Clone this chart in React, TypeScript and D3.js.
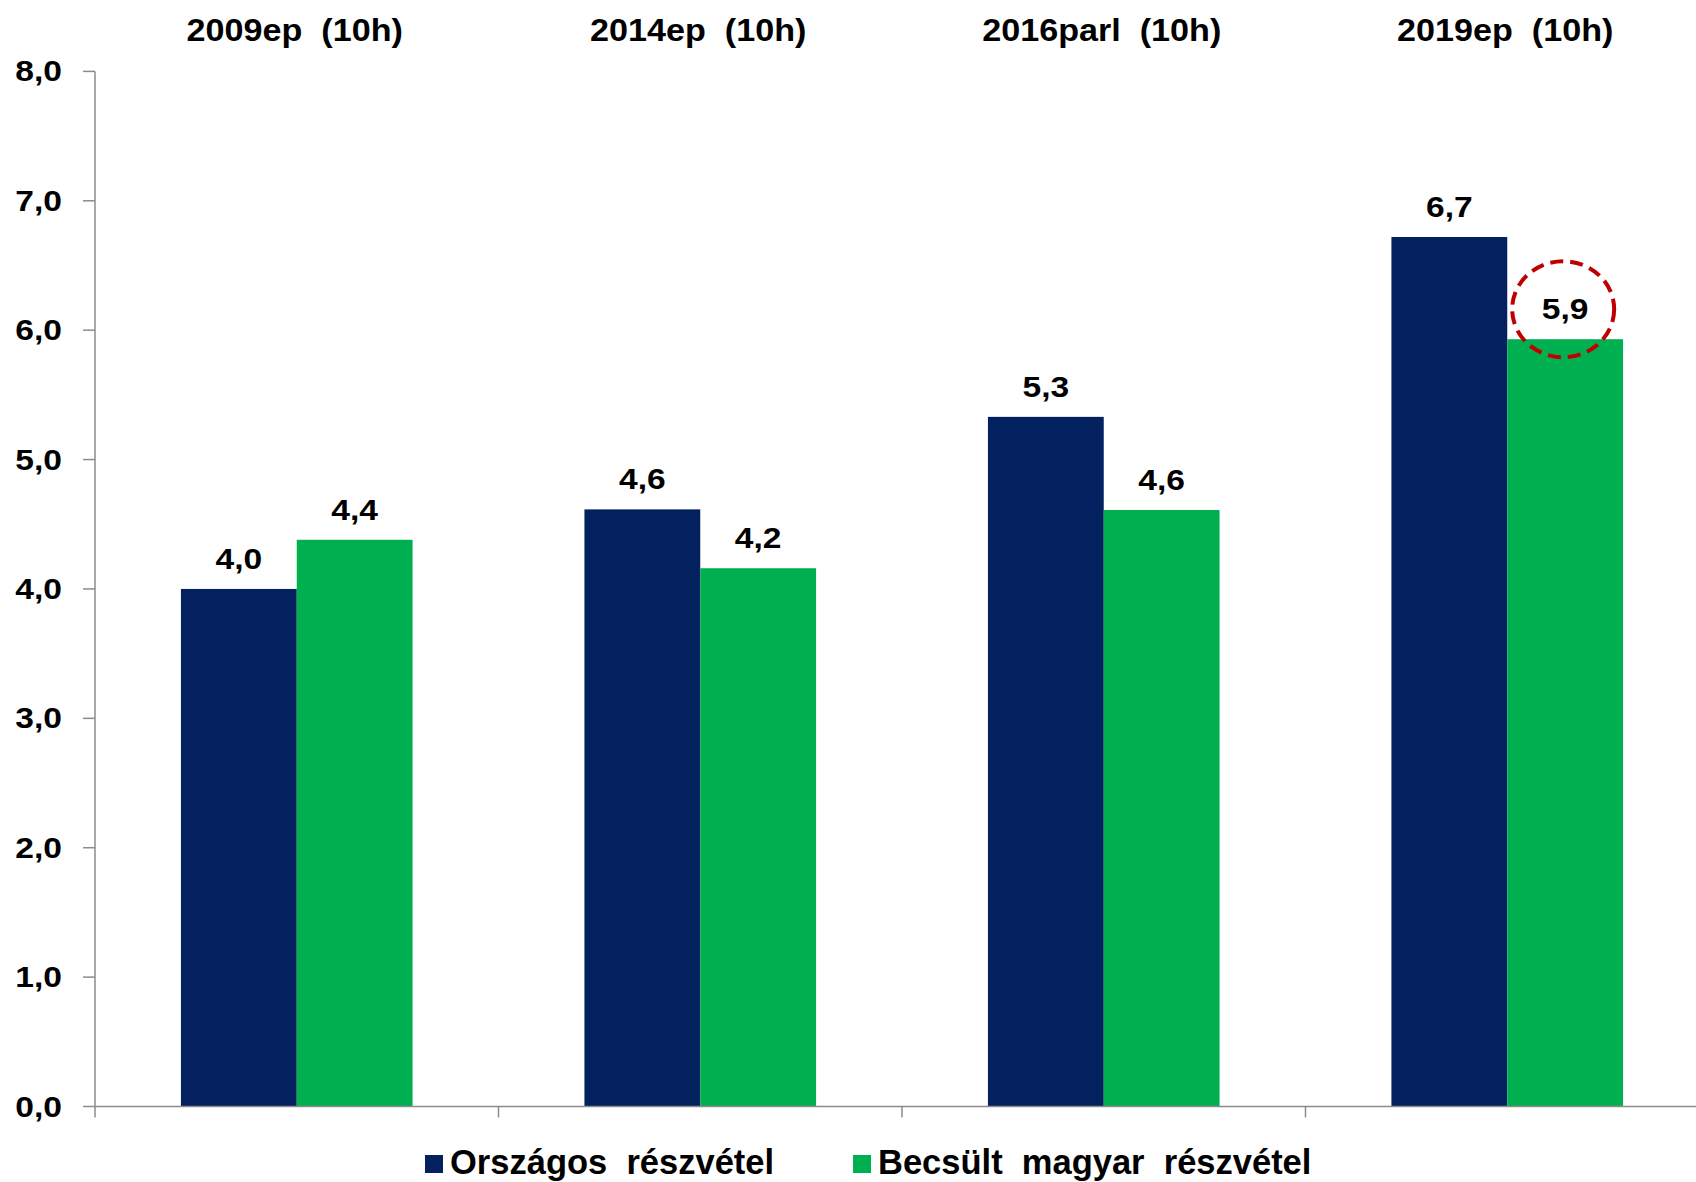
import React, { useEffect, useRef } from 'react';
import * as d3 from 'd3';

const categories = ['2009ep  (10h)', '2014ep  (10h)', '2016parl  (10h)', '2019ep  (10h)'];
const seriesNames = ['Országos  részvétel', 'Becsült  magyar  részvétel'];
const nationalValues = [4.0, 4.615, 5.33, 6.72];
const hungarianValues = [4.38, 4.16, 4.61, 5.93];
const yTicks = [0, 1, 2, 3, 4, 5, 6, 7, 8];
const highlightedIndex = 3; // circled value (Becsült, 2019ep)

const colors = ['#03205F', '#00AF50'];

const WIDTH = 1696;
const HEIGHT = 1182;

const fmt = (v: number) => v.toFixed(1).replace('.', ',');

const App: React.FC = () => {
  const svgRef = useRef<SVGSVGElement>(null);

  useEffect(() => {
    if (!svgRef.current) return;
    d3.select(svgRef.current).selectAll('*').remove();
    const svg = d3.select(svgRef.current);

    const left = 95;
    const step = 403.5;
    const top = 71.4;
    const bottom = 1106.5;

    const x = d3.scaleBand<string>()
      .domain(categories)
      .range([left, left + step * categories.length])
      .padding(0);

    const xInner = d3.scaleBand<string>()
      .domain(seriesNames)
      .range([0, x.bandwidth()])
      .paddingInner(0)
      .paddingOuter(0.742);

    const y = d3.scaleLinear().domain([0, 8]).range([bottom, top]);

    const font = '"Liberation Sans", Arial, sans-serif';
    const axisColor = '#8c8c8c';

    // Bars
    const series = [nationalValues, hungarianValues];
    series.forEach((vals, si) => {
      vals.forEach((v, ci) => {
        const bx = (x(categories[ci]) || 0) + (xInner(seriesNames[si]) || 0);
        svg.append('rect')
          .attr('x', bx)
          .attr('y', y(v))
          .attr('width', xInner.bandwidth())
          .attr('height', y(0) - y(v))
          .attr('fill', colors[si]);

        const lx = bx + xInner.bandwidth() / 2;
        const ly = y(v) - 20;
        svg.append('text')
          .attr('transform', `translate(${lx},${ly}) scale(1.12,1)`)
          .attr('text-anchor', 'middle')
          .attr('font-family', font)
          .attr('font-weight', 'bold')
          .attr('font-size', 30)
          .attr('fill', '#000')
          .text(fmt(v));

        if (si === 1 && ci === highlightedIndex) {
          svg.append('ellipse')
            .attr('cx', lx - 2)
            .attr('cy', ly - 10)
            .attr('rx', 51)
            .attr('ry', 48)
            .attr('fill', 'none')
            .attr('stroke', '#C00000')
            .attr('stroke-width', 4)
            .attr('stroke-dasharray', '13,7');
        }
      });
    });

    // Y axis
    svg.append('line')
      .attr('x1', left).attr('x2', left)
      .attr('y1', top).attr('y2', bottom)
      .attr('stroke', axisColor).attr('stroke-width', 1.5);

    yTicks.forEach(t => {
      svg.append('line')
        .attr('x1', left - 12).attr('x2', left)
        .attr('y1', y(t)).attr('y2', y(t))
        .attr('stroke', axisColor).attr('stroke-width', 1.5);
      svg.append('text')
        .attr('transform', `translate(62,${y(t) + 10}) scale(1.12,1)`)
        .attr('text-anchor', 'end')
        .attr('font-family', font)
        .attr('font-weight', 'bold')
        .attr('font-size', 30)
        .attr('fill', '#000')
        .text(fmt(t));
    });

    // X axis
    svg.append('line')
      .attr('x1', left).attr('x2', WIDTH)
      .attr('y1', bottom).attr('y2', bottom)
      .attr('stroke', axisColor).attr('stroke-width', 1.5);

    categories.forEach(c => {
      const cx = x(c) || 0;
      svg.append('line')
        .attr('x1', cx).attr('x2', cx)
        .attr('y1', bottom).attr('y2', bottom + 11)
        .attr('stroke', axisColor).attr('stroke-width', 1.5);

      svg.append('text')
        .attr('transform', `translate(${cx + x.bandwidth() / 2 - 2},41) scale(1.12,1)`)
        .attr('text-anchor', 'middle')
        .attr('font-family', font)
        .attr('font-weight', 'bold')
        .attr('font-size', 30.5)
        .attr('fill', '#000')
        .style('white-space', 'pre')
        .text(c);
    });

    // Legend
    const legendX = [425, 853];
    seriesNames.forEach((name, i) => {
      svg.append('rect')
        .attr('x', legendX[i])
        .attr('y', 1155)
        .attr('width', 18)
        .attr('height', 18)
        .attr('fill', colors[i]);
      svg.append('text')
        .attr('x', legendX[i] + 25)
        .attr('y', 1174)
        .attr('font-family', font)
        .attr('font-weight', 'bold')
        .attr('font-size', 34.5)
        .attr('fill', '#000')
        .style('white-space', 'pre')
        .text(name);
    });
  }, []);

  return (
    <svg
      ref={svgRef}
      width={WIDTH}
      height={HEIGHT}
      style={{ position: 'absolute', left: 0, top: 0, background: '#fff' }}
    />
  );
};

export default App;
